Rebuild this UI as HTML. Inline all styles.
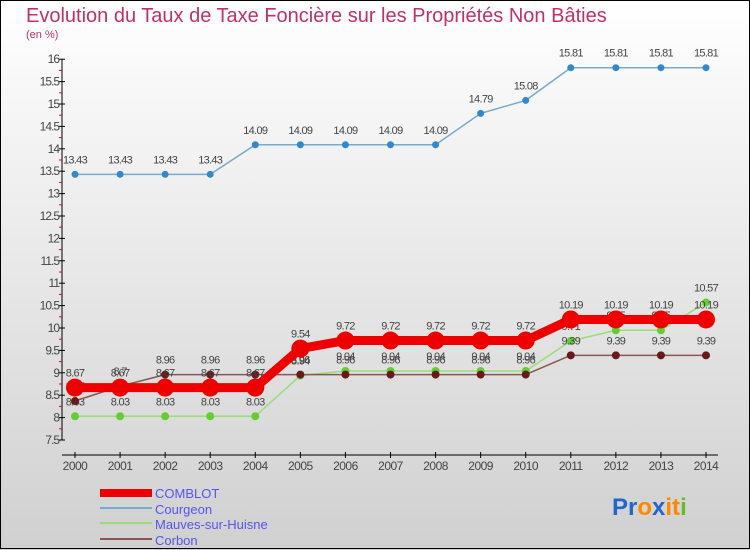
<!DOCTYPE html>
<html><head><meta charset="utf-8"><style>
body{margin:0;}
svg{display:block;font-family:"Liberation Sans",sans-serif;}
</style></head><body>
<svg id="chart" width="750" height="550" viewBox="0 0 750 550">
<defs><linearGradient id="bg" x1="0" y1="0" x2="0" y2="1"><stop offset="0" stop-color="#ffffff"/><stop offset="1" stop-color="#d0d0d0"/></linearGradient></defs>
<rect x="0" y="0" width="750" height="550" fill="url(#bg)"/>
<rect x="0.5" y="0.5" width="749" height="548" fill="none" stroke="#000"/>
<text x="26" y="22" font-size="20" fill="#c0306a">Evolution du Taux de Taxe Foncière sur les Propriétés Non Bâties</text>
<text x="26" y="38" font-size="11" fill="#c0306a">(en %)</text>
<g id="axes"></g>
<g id="series"></g>
<g id="legend">
<rect x="100" y="489" width="52" height="8" fill="#ee0000"/>
<text x="155" y="498" font-size="13" fill="#5555ee">COMBLOT</text>
<rect x="100" y="507" width="52" height="2" fill="#77aacc"/>
<text x="155" y="514" font-size="13" fill="#5555ee">Courgeon</text>
<rect x="100" y="522" width="52" height="2" fill="#99dd77"/>
<text x="155" y="529" font-size="13" fill="#5555ee">Mauves-sur-Huisne</text>
<rect x="100" y="538" width="52" height="2" fill="#8b5555"/>
<text x="155" y="545" font-size="13" fill="#5555ee">Corbon</text>
</g>
<text x="612" y="515" font-size="24" font-weight="bold"><tspan fill="#2266cc">Pr</tspan><tspan fill="#ff8800">o</tspan><tspan fill="#2266cc">x</tspan><tspan fill="#ff8800">it</tspan><tspan fill="#66bb33">i</tspan></text>
</svg>
<script>
const years=["2000","2001","2002","2003","2004","2005","2006","2007","2008","2009","2010","2011","2012","2013","2014"];
const comblot=[8.67,8.67,8.67,8.67,8.67,9.54,9.72,9.72,9.72,9.72,9.72,10.19,10.19,10.19,10.19];
const courgeon=[13.43,13.43,13.43,13.43,14.09,14.09,14.09,14.09,14.09,14.79,15.08,15.81,15.81,15.81,15.81];
const mauves=[8.03,8.03,8.03,8.03,8.03,8.94,9.04,9.04,9.04,9.04,9.04,9.71,9.95,9.95,10.57];
const corbon=[8.37,8.7,8.96,8.96,8.96,8.96,8.96,8.96,8.96,8.96,8.96,9.39,9.39,9.39,9.39];
const yTicks=[7.5,8,8.5,9,9.5,10,10.5,11,11.5,12,12.5,13,13.5,14,14.5,15,15.5,16];
const NS="http://www.w3.org/2000/svg";
const x=i=>75+i*(706-75)/(years.length-1);
const y=v=>440-(v-7.5)*44.8;
function mk(tag,attrs,parent){const e=document.createElementNS(NS,tag);for(const k in attrs)e.setAttribute(k,attrs[k]);parent.appendChild(e);return e;}
const ax=document.getElementById('axes');
let e=mk('line',{x1:62,y1:y(16),x2:62,y2:440,stroke:'#000'},ax);


e=mk('line',{x1:62,y1:455,x2:718,y2:455,stroke:'#000'},ax);


yTicks.forEach((v,i)=>{
  mk('line',{x1:59,y1:y(v),x2:65,y2:y(v),stroke:'#000'},ax);
  if(i<yTicks.length-1) mk('line',{x1:59,y1:y(v+0.25),x2:62,y2:y(v+0.25),stroke:'#e00'},ax);
  const t=mk('text',{x:59,y:y(v)+4,'font-size':12,fill:'#444','text-anchor':'end','letter-spacing':'-1'},ax);
  t.textContent=String(v);
  
  
});
years.forEach((yr,i)=>{
  mk('line',{x1:x(i),y1:452,x2:x(i),y2:458,stroke:'#000'},ax);
  const t=mk('text',{x:x(i),y:470,'font-size':12,fill:'#444','text-anchor':'middle','letter-spacing':'-0.5'},ax);
  t.textContent=yr;
  
  
});
const sg=document.getElementById('series');
function draw(vals,name,color,w,r,dot){
  const g=mk('g',{},sg);
  
  
  const p=mk('polyline',{points:vals.map((v,i)=>x(i)+','+y(v)).join(' '),fill:'none',stroke:color,'stroke-width':w,'stroke-linejoin':'round'},g);
  
  
  vals.forEach((v,i)=>{
    const c=mk('circle',{cx:x(i),cy:y(v),r:r,fill:dot},g);
    
    
    const t=mk('text',{x:x(i),y:y(v)-11,'font-size':11,fill:'#444','text-anchor':'middle','letter-spacing':'-0.7'},g);
    t.textContent=String(v);
    
    
  });
}
draw(courgeon,'courgeon','#77aacc',1.5,3.5,'#3388cc');
draw(mauves,'mauves','#99dd77',1.5,4,'#66cc33');
draw(corbon,'corbon','#8b5555',1.5,4,'#661a1a');
draw(comblot,'comblot','#ee0000',9,9,'#ee0000');
</script>
</body></html>
